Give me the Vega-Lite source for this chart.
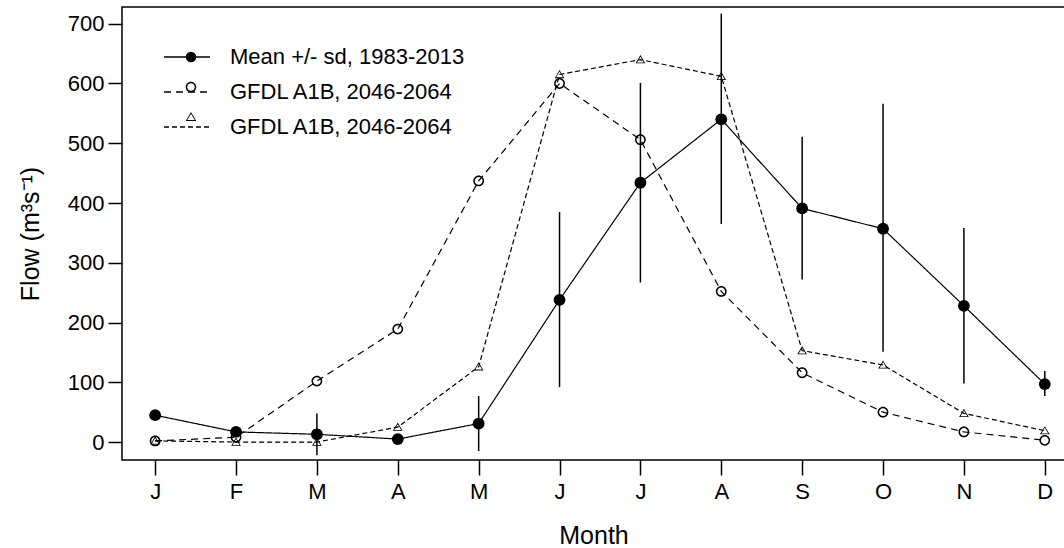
{
  "$schema": "https://vega.github.io/schema/vega-lite/v6.json",
  "width": 943,
  "height": 453,
  "autosize": {"type": "none"},
  "padding": {"left": 122, "top": 7, "right": 0, "bottom": 88},
  "background": "white",
  "config": {
    "font": "Liberation Sans",
    "view": {"stroke": "black", "strokeWidth": 1.5},
    "axis": {"labelColor": "black", "titleColor": "black", "tickColor": "black", "domain": false, "grid": false, "tickWidth": 1.5, "titleFontWeight": "normal"}
  },
  "data": {
    "values": [
      {"month": 1, "series": "a", "flow": 45, "lo": 40, "hi": 50},
      {"month": 2, "series": "a", "flow": 17, "lo": 10, "hi": 24},
      {"month": 3, "series": "a", "flow": 13, "lo": -22, "hi": 48},
      {"month": 4, "series": "a", "flow": 5, "lo": 0, "hi": 10},
      {"month": 5, "series": "a", "flow": 31, "lo": -15, "hi": 77},
      {"month": 6, "series": "a", "flow": 238, "lo": 92, "hi": 385},
      {"month": 7, "series": "a", "flow": 434, "lo": 267, "hi": 601},
      {"month": 8, "series": "a", "flow": 540, "lo": 365, "hi": 717},
      {"month": 9, "series": "a", "flow": 391, "lo": 272, "hi": 511},
      {"month": 10, "series": "a", "flow": 357, "lo": 151, "hi": 566},
      {"month": 11, "series": "a", "flow": 228, "lo": 98, "hi": 358},
      {"month": 12, "series": "a", "flow": 97, "lo": 77, "hi": 119},
      {"month": 1, "series": "b", "flow": 2},
      {"month": 2, "series": "b", "flow": 8},
      {"month": 3, "series": "b", "flow": 102},
      {"month": 4, "series": "b", "flow": 189},
      {"month": 5, "series": "b", "flow": 437},
      {"month": 6, "series": "b", "flow": 600},
      {"month": 7, "series": "b", "flow": 506},
      {"month": 8, "series": "b", "flow": 252},
      {"month": 9, "series": "b", "flow": 116},
      {"month": 10, "series": "b", "flow": 50},
      {"month": 11, "series": "b", "flow": 17},
      {"month": 12, "series": "b", "flow": 3},
      {"month": 1, "series": "c", "flow": 2},
      {"month": 2, "series": "c", "flow": 0},
      {"month": 3, "series": "c", "flow": 0},
      {"month": 4, "series": "c", "flow": 25},
      {"month": 5, "series": "c", "flow": 126},
      {"month": 6, "series": "c", "flow": 615},
      {"month": 7, "series": "c", "flow": 640},
      {"month": 8, "series": "c", "flow": 612},
      {"month": 9, "series": "c", "flow": 153},
      {"month": 10, "series": "c", "flow": 129},
      {"month": 11, "series": "c", "flow": 48},
      {"month": 12, "series": "c", "flow": 19}
    ]
  },
  "encoding": {
    "x": {
      "field": "month", "type": "quantitative",
      "scale": {"domain": [0.59, 12.25], "nice": false, "zero": false},
      "axis": {
        "values": [1, 2, 3, 4, 5, 6, 7, 8, 9, 10, 11, 12],
        "labelExpr": "['J','F','M','A','M','J','J','A','S','O','N','D'][datum.value - 1]",
        "title": "Month", "titleFontSize": 25, "titlePadding": 21,
        "labelFontSize": 22, "tickSize": 15, "labelPadding": 6, "labelFlush": false
      }
    },
    "y": {
      "field": "flow", "type": "quantitative",
      "scale": {"domain": [-30, 728], "nice": false, "zero": false},
      "axis": {
        "values": [0, 100, 200, 300, 400, 500, 600, 700],
        "title": "Flow (m³s⁻¹)", "titleFontSize": 25, "titlePadding": 24,
        "labelFontSize": 22, "tickSize": 14, "labelPadding": 4, "labelFlush": false
      }
    }
  },
  "layer": [
    {
      "transform": [{"filter": "datum.series == 'a'"}],
      "mark": {"type": "rule", "color": "black", "strokeWidth": 1.5},
      "encoding": {"y": {"field": "lo", "type": "quantitative"}, "y2": {"field": "hi"}}
    },
    {
      "mark": {"type": "line", "color": "black", "strokeWidth": 1.2},
      "encoding": {
        "strokeDash": {
          "field": "series", "type": "nominal",
          "scale": {"domain": ["a", "b", "c"], "range": [[1, 0], [7, 5], [5, 3]]},
          "legend": {
            "orient": "none", "legendX": 41, "legendY": 26,
            "title": null, "padding": 0,
            "symbolSize": 2116, "symbolStrokeWidth": 1.3, "symbolStrokeColor": "black",
            "labelFontSize": 22, "labelColor": "black", "labelOffset": 19, "rowPadding": -18, "labelLimit": 600,
            "labelExpr": "datum.value == 'a' ? 'Mean +/- sd, 1983-2013' : 'GFDL A1B, 2046-2064'"
          }
        }
      }
    },
    {
      "mark": {"type": "point", "filled": true, "color": "black", "strokeWidth": 0, "opacity": 1},
      "encoding": {
        "shape": {
          "field": "series", "type": "nominal",
          "scale": {"domain": ["a", "b", "c", "x"], "range": [
            "circle",
            "M-1,0A1,1,0,1,1,1,0A1,1,0,1,1,-1,0ZM-0.72,0A0.72,0.72,0,1,0,0.72,0A0.72,0.72,0,1,0,-0.72,0Z",
            "M0,-0.95L1,0.75L-1,0.75ZM0,-0.614L-0.703,0.582L0.703,0.582Z",
            "square"
          ]},
          "legend": {
            "orient": "none", "legendX": 58, "legendY": 39,
            "title": null, "padding": 0, "values": ["a", "b", "c"],
            "symbolSize": 110, "symbolStrokeWidth": 0.5, "symbolStrokeColor": "black", "symbolFillColor": "black",
            "labelFontSize": 22, "labelOpacity": 0, "rowPadding": 8
          }
        },
        "size": {
          "field": "series", "type": "nominal",
          "scale": {"domain": ["a", "b", "c", "w"], "range": [140, 70, 200, 70]},
          "legend": null
        }
      }
    }
  ]
}
